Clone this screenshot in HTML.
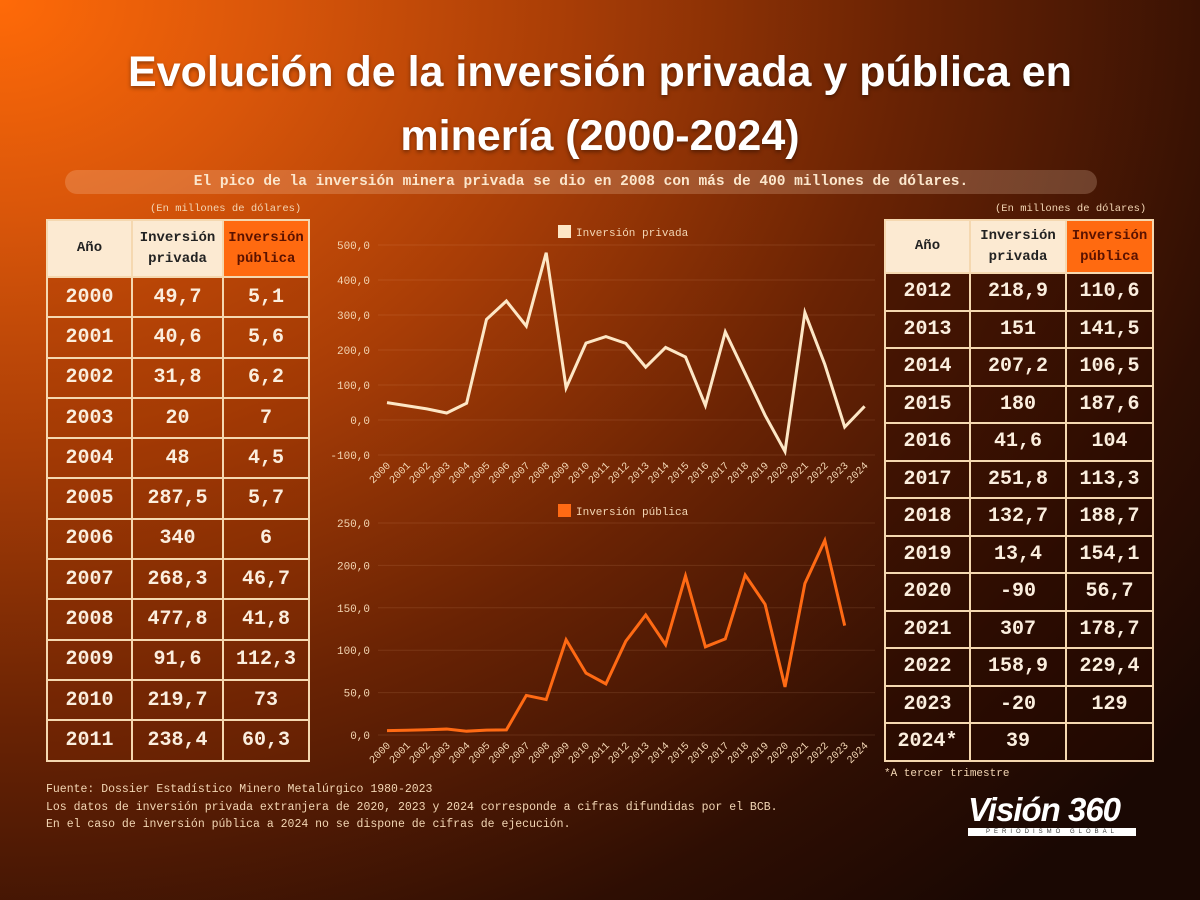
<!DOCTYPE html>
<html><head><meta charset="utf-8"><style>
html,body{margin:0;padding:0}
body{width:1200px;height:900px;overflow:hidden;position:relative;font-family:"Liberation Mono",monospace;
background:radial-gradient(ellipse 1500px 1200px at 0px 0px,#ff6a08 0%,#d9560a 18%,#a83d06 38%,#6a2304 60%,#2e0e03 85%,#1a0803 100%);}
.title{position:absolute;left:0;width:1200px;top:40px;text-align:center;color:#fff;font-family:"Liberation Sans",sans-serif;font-weight:bold;font-size:43px;line-height:64px;text-shadow:0 2px 4px rgba(0,0,0,.4)}
.pill{position:absolute;left:65px;top:170px;width:1032px;height:24px;border-radius:12px;background:rgba(255,220,190,.22);color:#fbe6cc;font-weight:bold;font-size:14.5px;line-height:24px;text-align:center}
.unit{position:absolute;font-size:10.5px;color:#f3d6b4}
table{position:absolute;border-collapse:collapse;color:#fbeede;font-weight:bold;text-align:center}
td{border:2.5px solid #f5d8b0;padding:0;font-size:20px}
th{border:2.5px solid #f5d8b0;background:#fcead2;color:#222;font-size:14px;line-height:21px;padding:0}
th.pub{background:#ff6a10;color:#5a1200}
#L td{background:rgba(140,45,0,.22);height:38.3px}
#R td{background:rgba(40,10,0,.42);height:35.5px}
.foot{position:absolute;left:46px;top:781px;font-size:11.5px;color:#f3d6b4;line-height:17.5px}
.note{position:absolute;left:884px;top:768px;font-size:11px;color:#f3d6b4}
.logo{position:absolute;left:968px;top:792px;color:#fff;font-family:"Liberation Sans",sans-serif;font-weight:bold;font-style:italic;font-size:33px;line-height:36px;letter-spacing:-1px}
.logo2{position:absolute;left:968px;top:828px;width:168px;height:8px;background:#fff;color:#333;font-size:6px;line-height:8px;letter-spacing:4px;text-align:center;font-family:"Liberation Sans",sans-serif;overflow:hidden;white-space:nowrap}
</style></head><body>
<div class="title">Evolución de la inversión privada y pública en<br>minería (2000-2024)</div>
<div class="pill">El pico de la inversión minera privada se dio en 2008 con más de 400 millones de dólares.</div>
<div class="unit" style="left:150px;top:203px">(En millones de dólares)</div>
<div class="unit" style="left:995px;top:203px">(En millones de dólares)</div>
<table id="L" style="left:46px;top:219px;width:264px">
<tr style="height:57px"><th style="width:83px">Año</th><th style="width:89px">Inversión<br>privada</th><th class="pub">Inversión<br>pública</th></tr>
<tr><td>2000</td><td>49,7</td><td>5,1</td></tr><tr><td>2001</td><td>40,6</td><td>5,6</td></tr>
<tr><td>2002</td><td>31,8</td><td>6,2</td></tr><tr><td>2003</td><td>20</td><td>7</td></tr>
<tr><td>2004</td><td>48</td><td>4,5</td></tr><tr><td>2005</td><td>287,5</td><td>5,7</td></tr>
<tr><td>2006</td><td>340</td><td>6</td></tr><tr><td>2007</td><td>268,3</td><td>46,7</td></tr>
<tr><td>2008</td><td>477,8</td><td>41,8</td></tr><tr><td>2009</td><td>91,6</td><td>112,3</td></tr>
<tr><td>2010</td><td>219,7</td><td>73</td></tr><tr><td>2011</td><td>238,4</td><td>60,3</td></tr>
</table>
<table id="R" style="left:884px;top:219px;width:270px">
<tr style="height:53px"><th style="width:83px">Año</th><th style="width:94px">Inversión<br>privada</th><th class="pub">Inversión<br>pública</th></tr>
<tr><td>2012</td><td>218,9</td><td>110,6</td></tr><tr><td>2013</td><td>151</td><td>141,5</td></tr>
<tr><td>2014</td><td>207,2</td><td>106,5</td></tr><tr><td>2015</td><td>180</td><td>187,6</td></tr>
<tr><td>2016</td><td>41,6</td><td>104</td></tr><tr><td>2017</td><td>251,8</td><td>113,3</td></tr>
<tr><td>2018</td><td>132,7</td><td>188,7</td></tr><tr><td>2019</td><td>13,4</td><td>154,1</td></tr>
<tr><td>2020</td><td>-90</td><td>56,7</td></tr><tr><td>2021</td><td>307</td><td>178,7</td></tr>
<tr><td>2022</td><td>158,9</td><td>229,4</td></tr><tr><td>2023</td><td>-20</td><td>129</td></tr>
<tr><td>2024*</td><td>39</td><td></td></tr>
</table>
<svg id="c" width="1200" height="900" style="position:absolute;left:0;top:0"></svg>
<div class="foot">Fuente: Dossier Estadístico Minero Metalúrgico 1980-2023<br>Los datos de inversión privada extranjera de 2020, 2023 y 2024 corresponde a cifras difundidas por el BCB.<br>En el caso de inversión pública a 2024 no se dispone de cifras de ejecución.</div>
<div class="note">*A tercer trimestre</div>
<div class="logo">Visión 360</div>
<div class="logo2">PERIODISMO GLOBAL</div>
<script>
var s='';
var priv=[49.7,40.6,31.8,20,48,287.5,340,268.3,477.8,91.6,219.7,238.4,218.9,151,207.2,180,41.6,251.8,132.7,13.4,-90,307,158.9,-20,39];
var pub=[5.1,5.6,6.2,7,4.5,5.7,6,46.7,41.8,112.3,73,60.3,110.6,141.5,106.5,187.6,104,113.3,188.7,154.1,56.7,178.7,229.4,129];
function X(i){return 387+19.9*i;}
function chart(vals,y0,k,ticks,color,xl,legY,legTxt,legCol){
 ticks.forEach(function(t){var y=y0-k*t;
  s+='<line x1="378" x2="875" y1="'+y+'" y2="'+y+'" stroke="rgba(255,200,160,0.12)"/>';
  s+='<text x="370" y="'+(y+4)+'" text-anchor="end" font-size="11" fill="#f3d6b4" font-family="Liberation Mono">'+t+',0</text>';});
 var p=vals.map(function(v,i){return X(i)+','+(y0-k*v)}).join(' ');
 s+='<polyline points="'+p+'" fill="none" stroke="'+color+'" stroke-width="3" stroke-linejoin="miter"/>';
 for(var i=0;i<25;i++){var x=X(i)+4,y=xl;
  s+='<text transform="translate('+x+','+y+') rotate(-45)" text-anchor="end" font-size="10.5" fill="#f3d6b4" font-family="Liberation Mono">'+(2000+i)+'</text>';}
 s+='<rect x="558" y="'+(legY-7)+'" width="13" height="13" fill="'+legCol+'"/>';
 s+='<text x="576" y="'+(legY+4)+'" font-size="11" fill="#f3d6b4" font-family="Liberation Mono">'+legTxt+'</text>';
}
chart(priv,420,0.35,[500,400,300,200,100,0,-100],'#fde7c6',466,232,'Inversión privada','#fde7c6');
chart(pub,735,0.848,[250,200,150,100,50,0],'#ff6a14',746,511,'Inversión pública','#ff6a14');
document.getElementById('c').innerHTML=s;
</script>
</body></html>
